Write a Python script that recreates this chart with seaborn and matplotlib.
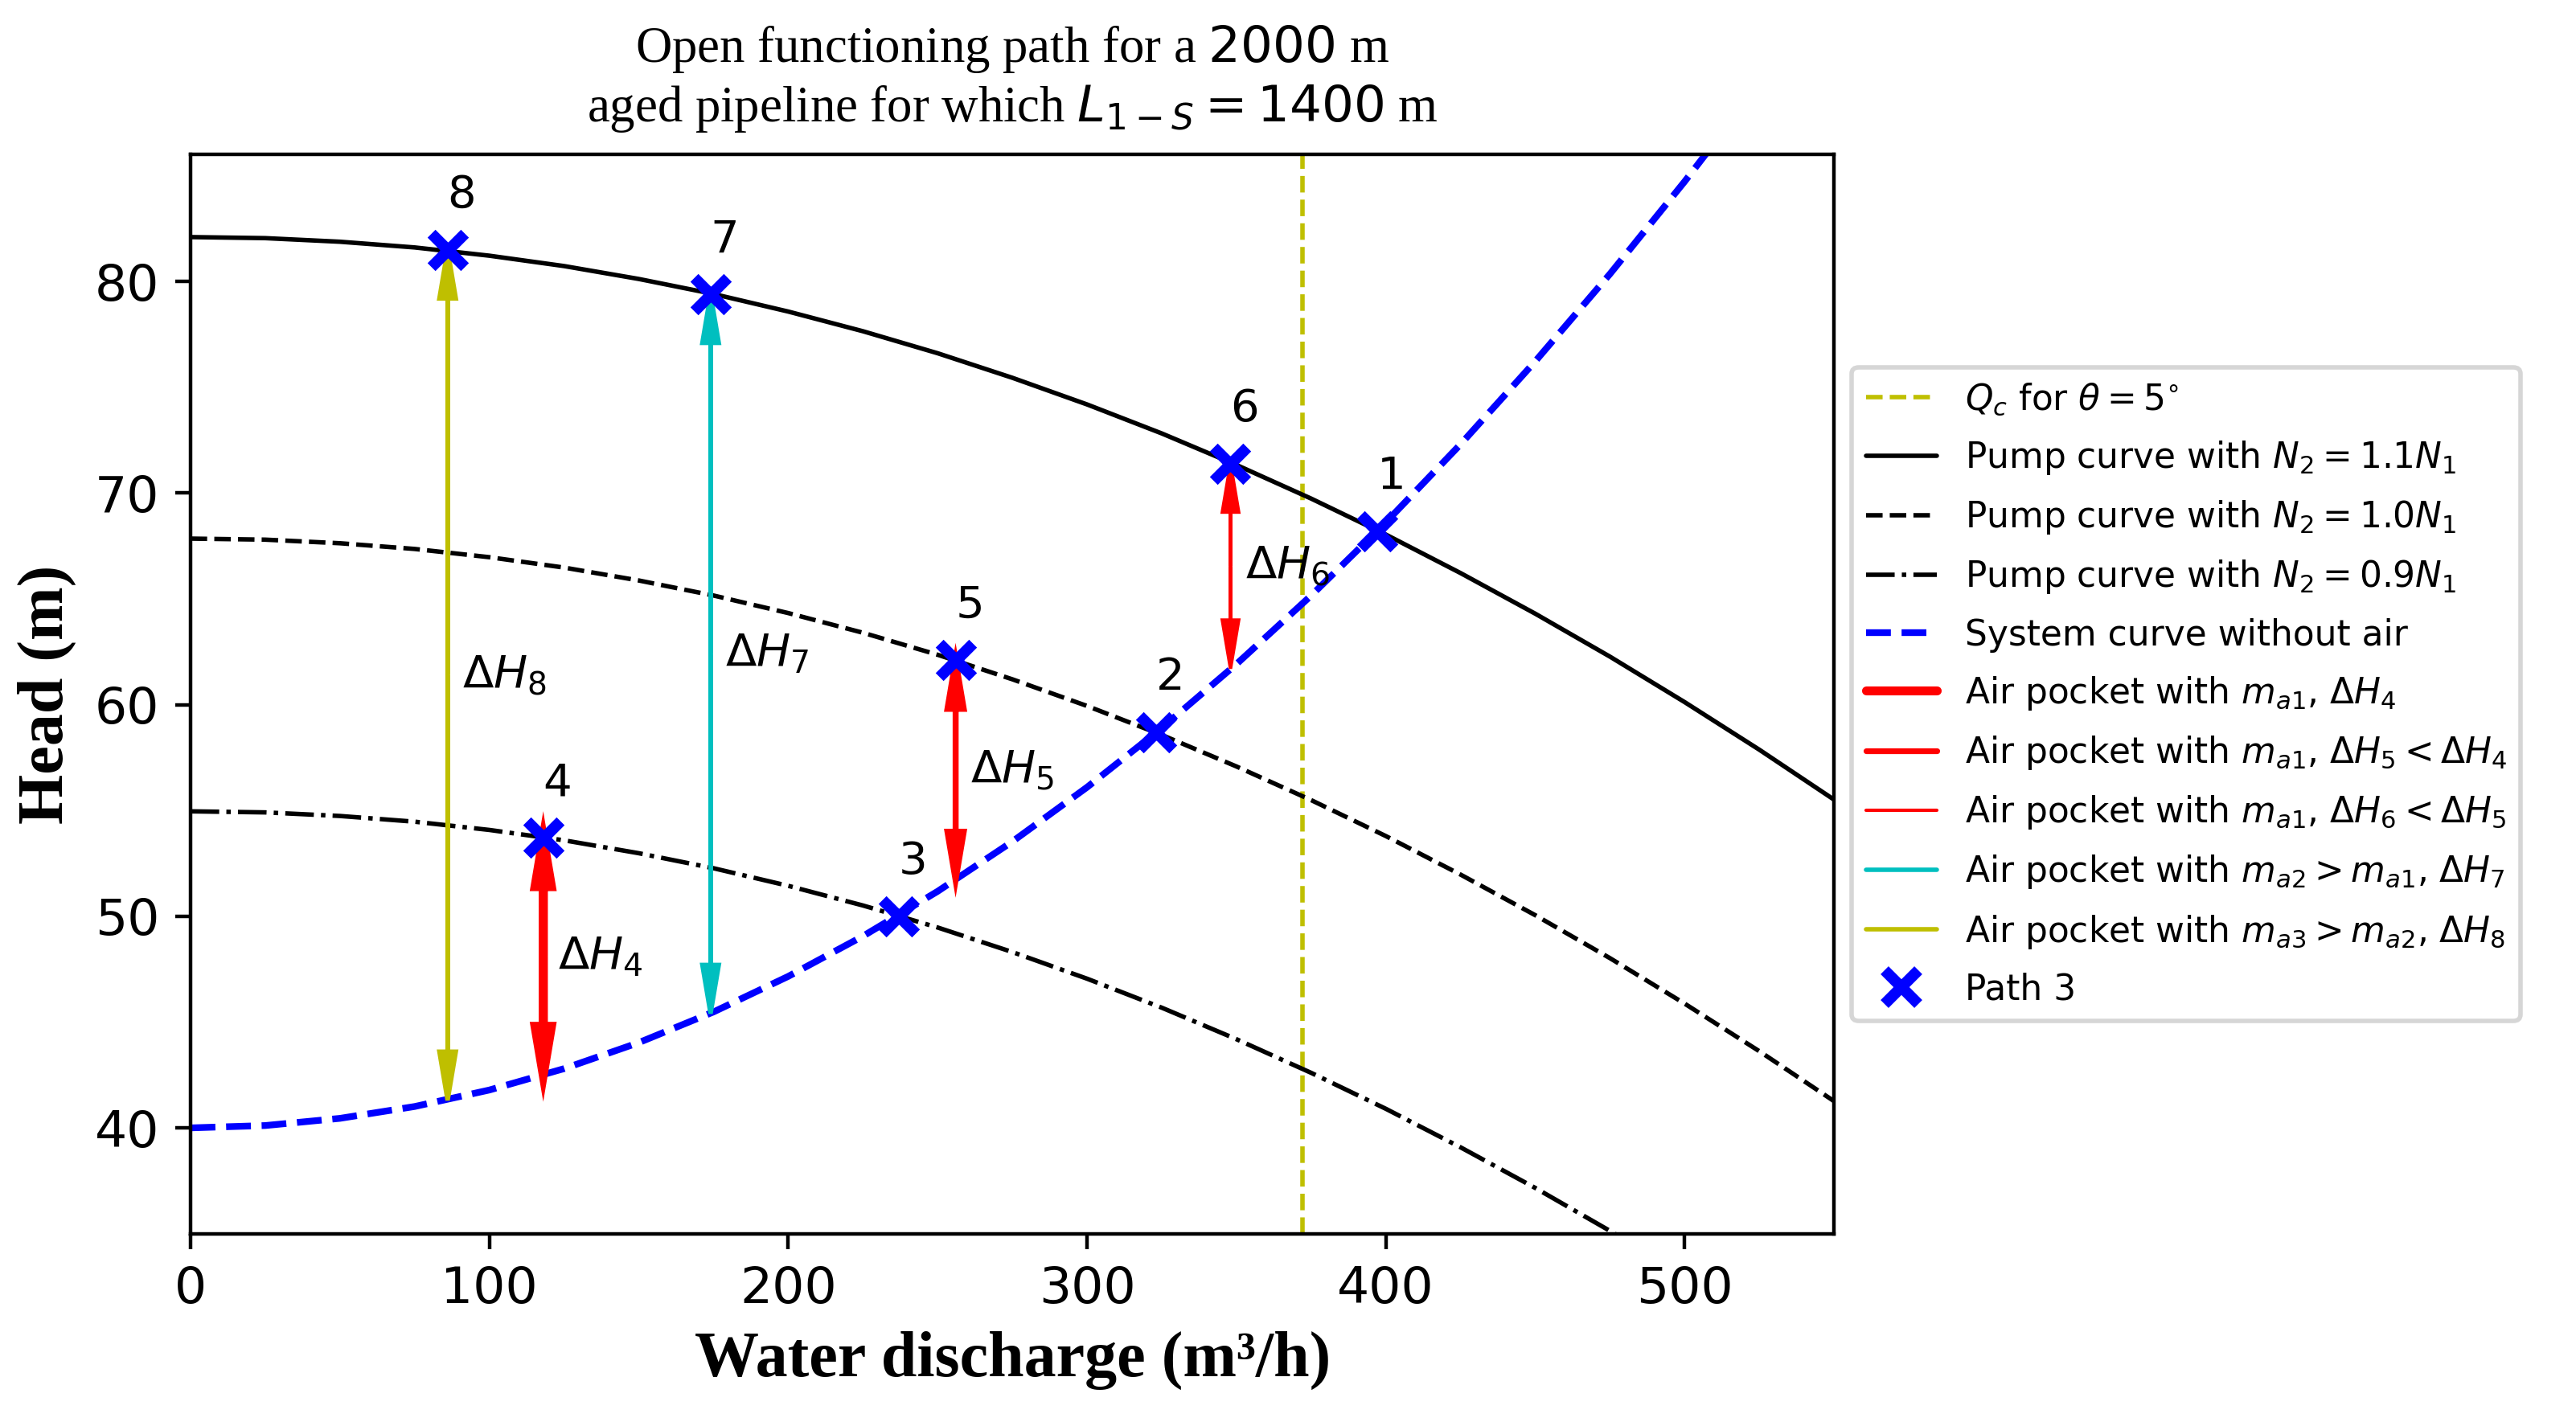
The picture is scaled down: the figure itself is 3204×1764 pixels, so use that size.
import numpy as np
import pandas as pd
import matplotlib
matplotlib.use("Agg")
import matplotlib.pyplot as plt
from matplotlib.lines import Line2D
import seaborn as sns

# ---------------- data ----------------
discharge = [0, 25, 50, 75, 100, 125, 150, 175, 200, 225, 250, 275,
             300, 325, 350, 375, 400, 425, 450, 475, 500, 525, 550]
pump_11 = [82.10, 82.05, 81.88, 81.61, 81.22, 80.73, 80.12, 79.41, 78.58, 77.65, 76.61, 75.45,
           74.19, 72.82, 71.33, 69.74, 68.04, 66.22, 64.30, 62.27, 60.12, 57.87, 55.51]
pump_10 = [67.85, 67.80, 67.63, 67.36, 66.97, 66.48, 65.87, 65.16, 64.33, 63.40, 62.36, 61.20,
           59.94, 58.57, 57.08, 55.49, 53.79, 51.97, 50.05, 48.02, 45.87, 43.62, 41.26]
pump_09 = [54.96, 54.91, 54.74, 54.47, 54.08, 53.59, 52.98, 52.27, 51.44, 50.51, 49.47, 48.31,
           47.05, 45.68, 44.19, 42.60, 40.90, 39.08, 37.16, 35.13, 32.98, 30.73, 28.37]
system_q = [0, 25, 50, 75, 100, 125, 150, 175, 200, 225, 250, 275,
            300, 325, 350, 375, 400, 425, 450, 475, 500, 525]
system_h = [40.00, 40.11, 40.45, 41.01, 41.79, 42.80, 44.03, 45.48, 47.16, 49.06, 51.18, 53.53,
            56.10, 58.90, 61.92, 65.16, 68.62, 72.31, 76.23, 80.36, 84.73, 89.31]
qc_value = 372

point_labels = ["1", "2", "3", "4", "5", "6", "7", "8"]
point_q = [397, 323, 237, 118, 256, 348, 174, 86]
point_h = [68.2, 58.7, 50.0, 53.7, 62.1, 71.4, 79.4, 81.5]

arrow_labels = ["4", "5", "6", "7", "8"]
arrow_q = [118, 256, 348, 174, 86]
arrow_top = [53.7, 62.1, 71.4, 79.4, 81.5]
arrow_bottom = [42.5, 51.7, 61.7, 45.4, 41.3]
arrow_colors = ["red", "red", "red", "c", "y"]
arrow_widths = [2.0, 1.3, 0.75, 1.0, 1.0]

legend_labels = [
    r"$Q_c$ for $\theta = 5^{\circ}$",
    r"Pump curve with $N_2 = 1.1N_1$",
    r"Pump curve with $N_2 = 1.0N_1$",
    r"Pump curve with $N_2 = 0.9N_1$",
    "System curve without air",
    r"Air pocket with $m_{a1}$, $\Delta H_4$",
    r"Air pocket with $m_{a1}$, $\Delta H_5 < \Delta H_4$",
    r"Air pocket with $m_{a1}$, $\Delta H_6 < \Delta H_5$",
    r"Air pocket with $m_{a2} > m_{a1}$, $\Delta H_7$",
    r"Air pocket with $m_{a3} > m_{a2}$, $\Delta H_8$",
    "Path 3",
]

# ---------------- style ----------------
sns.set_style("ticks")
plt.rcParams.update({
    "font.family": ["DejaVu Sans"],
    "axes.edgecolor": "black",
    "axes.linewidth": 0.8,
    "xtick.color": "black",
    "ytick.color": "black",
    "xtick.major.size": 3.5,
    "ytick.major.size": 3.5,
    "xtick.major.width": 0.8,
    "ytick.major.width": 0.8,
    "text.color": "black",
    "axes.labelcolor": "black",
    "mathtext.fontset": "dejavusans",
})

fig, ax = plt.subplots(figsize=(8.01, 4.41), dpi=400)
fig.subplots_adjust(left=0.074, right=0.712, top=0.891, bottom=0.130)

curves = pd.DataFrame({"Q": discharge, "H11": pump_11, "H10": pump_10, "H09": pump_09})
sysdf = pd.DataFrame({"Q": system_q, "H": system_h})

ax.axvline(qc_value, color="y", linestyle="--", lw=1.0, zorder=1)
sns.lineplot(data=curves, x="Q", y="H11", ax=ax, color="k", lw=1.0)
sns.lineplot(data=curves, x="Q", y="H10", ax=ax, color="k", lw=1.0, linestyle="--")
sns.lineplot(data=curves, x="Q", y="H09", ax=ax, color="k", lw=1.0, linestyle="-.")
sns.lineplot(data=sysdf, x="Q", y="H", ax=ax, color="blue", lw=1.5, linestyle="--")

for q, top, bot, c, w, lab in zip(arrow_q, arrow_top, arrow_bottom, arrow_colors, arrow_widths, arrow_labels):
    mid = (top + bot) / 2
    for end in (top, bot):
        ax.arrow(q, mid, 0, end - mid, width=0.0, head_width=5.5, head_length=2.3,
                 length_includes_head=True, color=c, lw=w, zorder=3)
    ax.text(q + 5, mid, r"$\Delta H_{%s}$" % lab, fontsize=10.1,
            va="center", ha="left")

pts = pd.DataFrame({"Q": point_q, "H": point_h})
sns.scatterplot(data=pts, x="Q", y="H", ax=ax, marker="x", color="blue",
                s=56, linewidth=2.5, zorder=5)
for lab, q, h in zip(point_labels, point_q, point_h):
    ax.text(q, h + 2, lab, fontsize=10.1, ha="left", va="baseline")

ax.set_xlim(0, 550)
ax.set_ylim(35, 86)
ax.set_xticks([0, 100, 200, 300, 400, 500])
ax.set_yticks([40, 50, 60, 70, 80])
ax.tick_params(labelsize=11.4)
for s in ax.spines.values():
    s.set_visible(True)

serif = ["Liberation Serif", "DejaVu Serif"]
ax.set_xlabel("Water discharge (m³/h)", fontsize=14.4, fontweight="bold", family=serif)
ax.set_ylabel("Head (m)", fontsize=14.4, fontweight="bold", family=serif)
ax.set_title("Open functioning path for a $2000$ m\naged pipeline for which $L_{1-S} = 1400$ m",
             fontsize=11.3, family=serif, pad=7.5)

handles = [
    Line2D([], [], color="y", linestyle="--", lw=1.0),
    Line2D([], [], color="k", lw=1.0),
    Line2D([], [], color="k", lw=1.0, linestyle="--"),
    Line2D([], [], color="k", lw=1.0, linestyle="-."),
    Line2D([], [], color="blue", lw=1.5, linestyle="--"),
    Line2D([], [], color="red", lw=2.0),
    Line2D([], [], color="red", lw=1.3),
    Line2D([], [], color="red", lw=0.75),
    Line2D([], [], color="c", lw=1.0),
    Line2D([], [], color="y", lw=1.0),
    Line2D([], [], color="blue", marker="x", linestyle="none", markersize=7.5, markeredgewidth=2.5),
]
ax.legend(handles, legend_labels, loc="center left", bbox_to_anchor=(1.0, 0.5),
          fontsize=7.9, frameon=True, labelspacing=0.62)

fig.savefig("out.png", dpi=400)
